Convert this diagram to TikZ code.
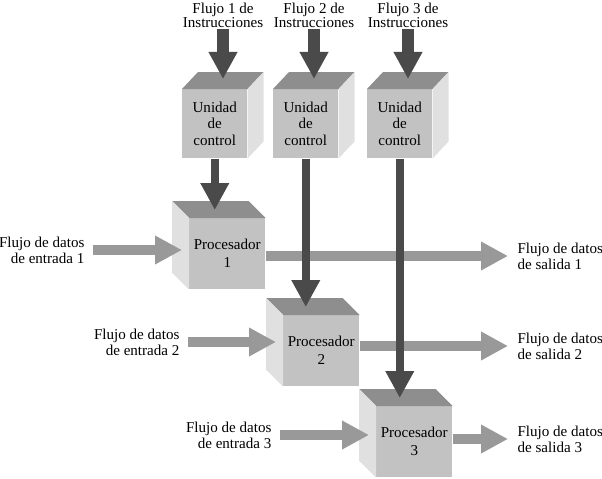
\documentclass[tikz,border=0pt]{standalone}
\usepackage{fontspec}
\setmainfont{Liberation Serif}
\usetikzlibrary{arrows.meta,calc,positioning}

\definecolor{caraFrente}{HTML}{C2C2C2}
\definecolor{caraSuperior}{HTML}{8E8E8E}
\definecolor{caraLateral}{HTML}{E0E0E0}
\definecolor{flechaOscura}{HTML}{4A4A4A}
\definecolor{flechaClara}{HTML}{999999}

\tikzset{
  frente/.style={rectangle, fill=caraFrente, inner sep=0pt, align=center,
    anchor=north west},
  unidad/.style={frente, minimum width=48.75pt, minimum height=51.75pt,
    font=\fontsize{11.3}{12.4}\selectfont},
  procesador/.style={frente, minimum width=57pt, minimum height=53.25pt,
    font=\fontsize{11.3}{13.5}\selectfont},
  etiqueta/.style={inner sep=1pt, font=\fontsize{11.3}{12}\selectfont},
  flechaInstr/.style={draw=flechaOscura, line width=9pt,
    -{Triangle[length=20.25pt, width=20.25pt]}},
  flechaCtrl/.style={flechaInstr, line width=6pt},
  flechaDatos/.style={draw=flechaClara, line width=7.5pt,
    -{Triangle[length=20.25pt, width=20.25pt]}}
}

\begin{document}
\begin{tikzpicture}[x=0.75pt, y=-0.75pt]

  \useasboundingbox (0,0) rectangle (602,478);

  % Unidades de control
  \node[unidad] (uc1) at (182,89) {Unidad\\de\\control};
  \node[unidad] (uc2) at (273,89) {Unidad\\de\\control};
  \node[unidad] (uc3) at (367,89) {Unidad\\de\\control};
  \foreach \n in {uc1,uc2,uc3} {
    \fill[caraSuperior] (\n.north west) -- ++(16,-17)
      -- ($(\n.north east)+(16,-17)$) -- (\n.north east) -- cycle;
    \fill[caraLateral] (\n.north east) -- ++(16,-17)
      -- ($(\n.south east)+(16,-17)$) -- (\n.south east) -- cycle;
  }

  % Procesadores
  \node[procesador] (p1) at (189,218) {Procesador\\1};
  \node[procesador] (p2) at (283,315) {Procesador\\2};
  \node[procesador] (p3) at (376,406) {Procesador\\3};
  \foreach \n in {p1,p2,p3} {
    \fill[caraSuperior] (\n.north west) -- ++(-17,-17)
      -- ($(\n.north east)+(-17,-17)$) -- (\n.north east) -- cycle;
    \fill[caraLateral] (\n.north west) -- ++(-17,-17)
      -- ($(\n.south west)+(-17,-17)$) -- (\n.south west) -- cycle;
  }

  % Flujos de instrucciones
  \node[etiqueta, align=center, font=\fontsize{11.3}{10.5}\selectfont]
    (fi1) at (223,15) {Flujo 1 de\\Instrucciones};
  \node[etiqueta, align=center, font=\fontsize{11.3}{10.5}\selectfont]
    (fi2) at (314,15) {Flujo 2 de\\Instrucciones};
  \node[etiqueta, align=center, font=\fontsize{11.3}{10.5}\selectfont]
    (fi3) at (408,15) {Flujo 3 de\\Instrucciones};

  % Flujos de datos de entrada
  \node[etiqueta, align=right, anchor=east] (ent1) at (86,250)
    {Flujo de datos\\de entrada 1};
  \node[etiqueta, align=right, anchor=east] (ent2) at (181,342)
    {Flujo de datos\\de entrada 2};
  \node[etiqueta, align=right, anchor=east] (ent3) at (273,435)
    {Flujo de datos\\de entrada 3};

  % Flujos de datos de salida
  \node[etiqueta, align=left, anchor=west] (sal1) at (516,256)
    {Flujo de datos\\de salida 1};
  \node[etiqueta, align=left, anchor=west] (sal2) at (516,346)
    {Flujo de datos\\de salida 2};
  \node[etiqueta, align=left, anchor=west] (sal3) at (516,439)
    {Flujo de datos\\de salida 3};

  % Flechas de datos
  \foreach \i in {1,2,3} {
    \draw[flechaDatos, shorten <=5pt, shorten >=5.25pt]
      (ent\i.east) -- (ent\i.east -| p\i.west);
    \draw[flechaDatos, shorten >=6pt] (sal\i.west -| p\i.east) -- (sal\i.west);
  }

  % Flechas de instrucciones
  \foreach \i in {1,2,3} {
    \draw[flechaInstr] (fi\i.south) -- ($(fi\i.south |- uc\i.north)+(0,-10)$);
    \draw[flechaCtrl] (uc\i.south) -- ($(uc\i.south |- p\i.north)+(0,-8)$);
  }

\end{tikzpicture}
\end{document}
